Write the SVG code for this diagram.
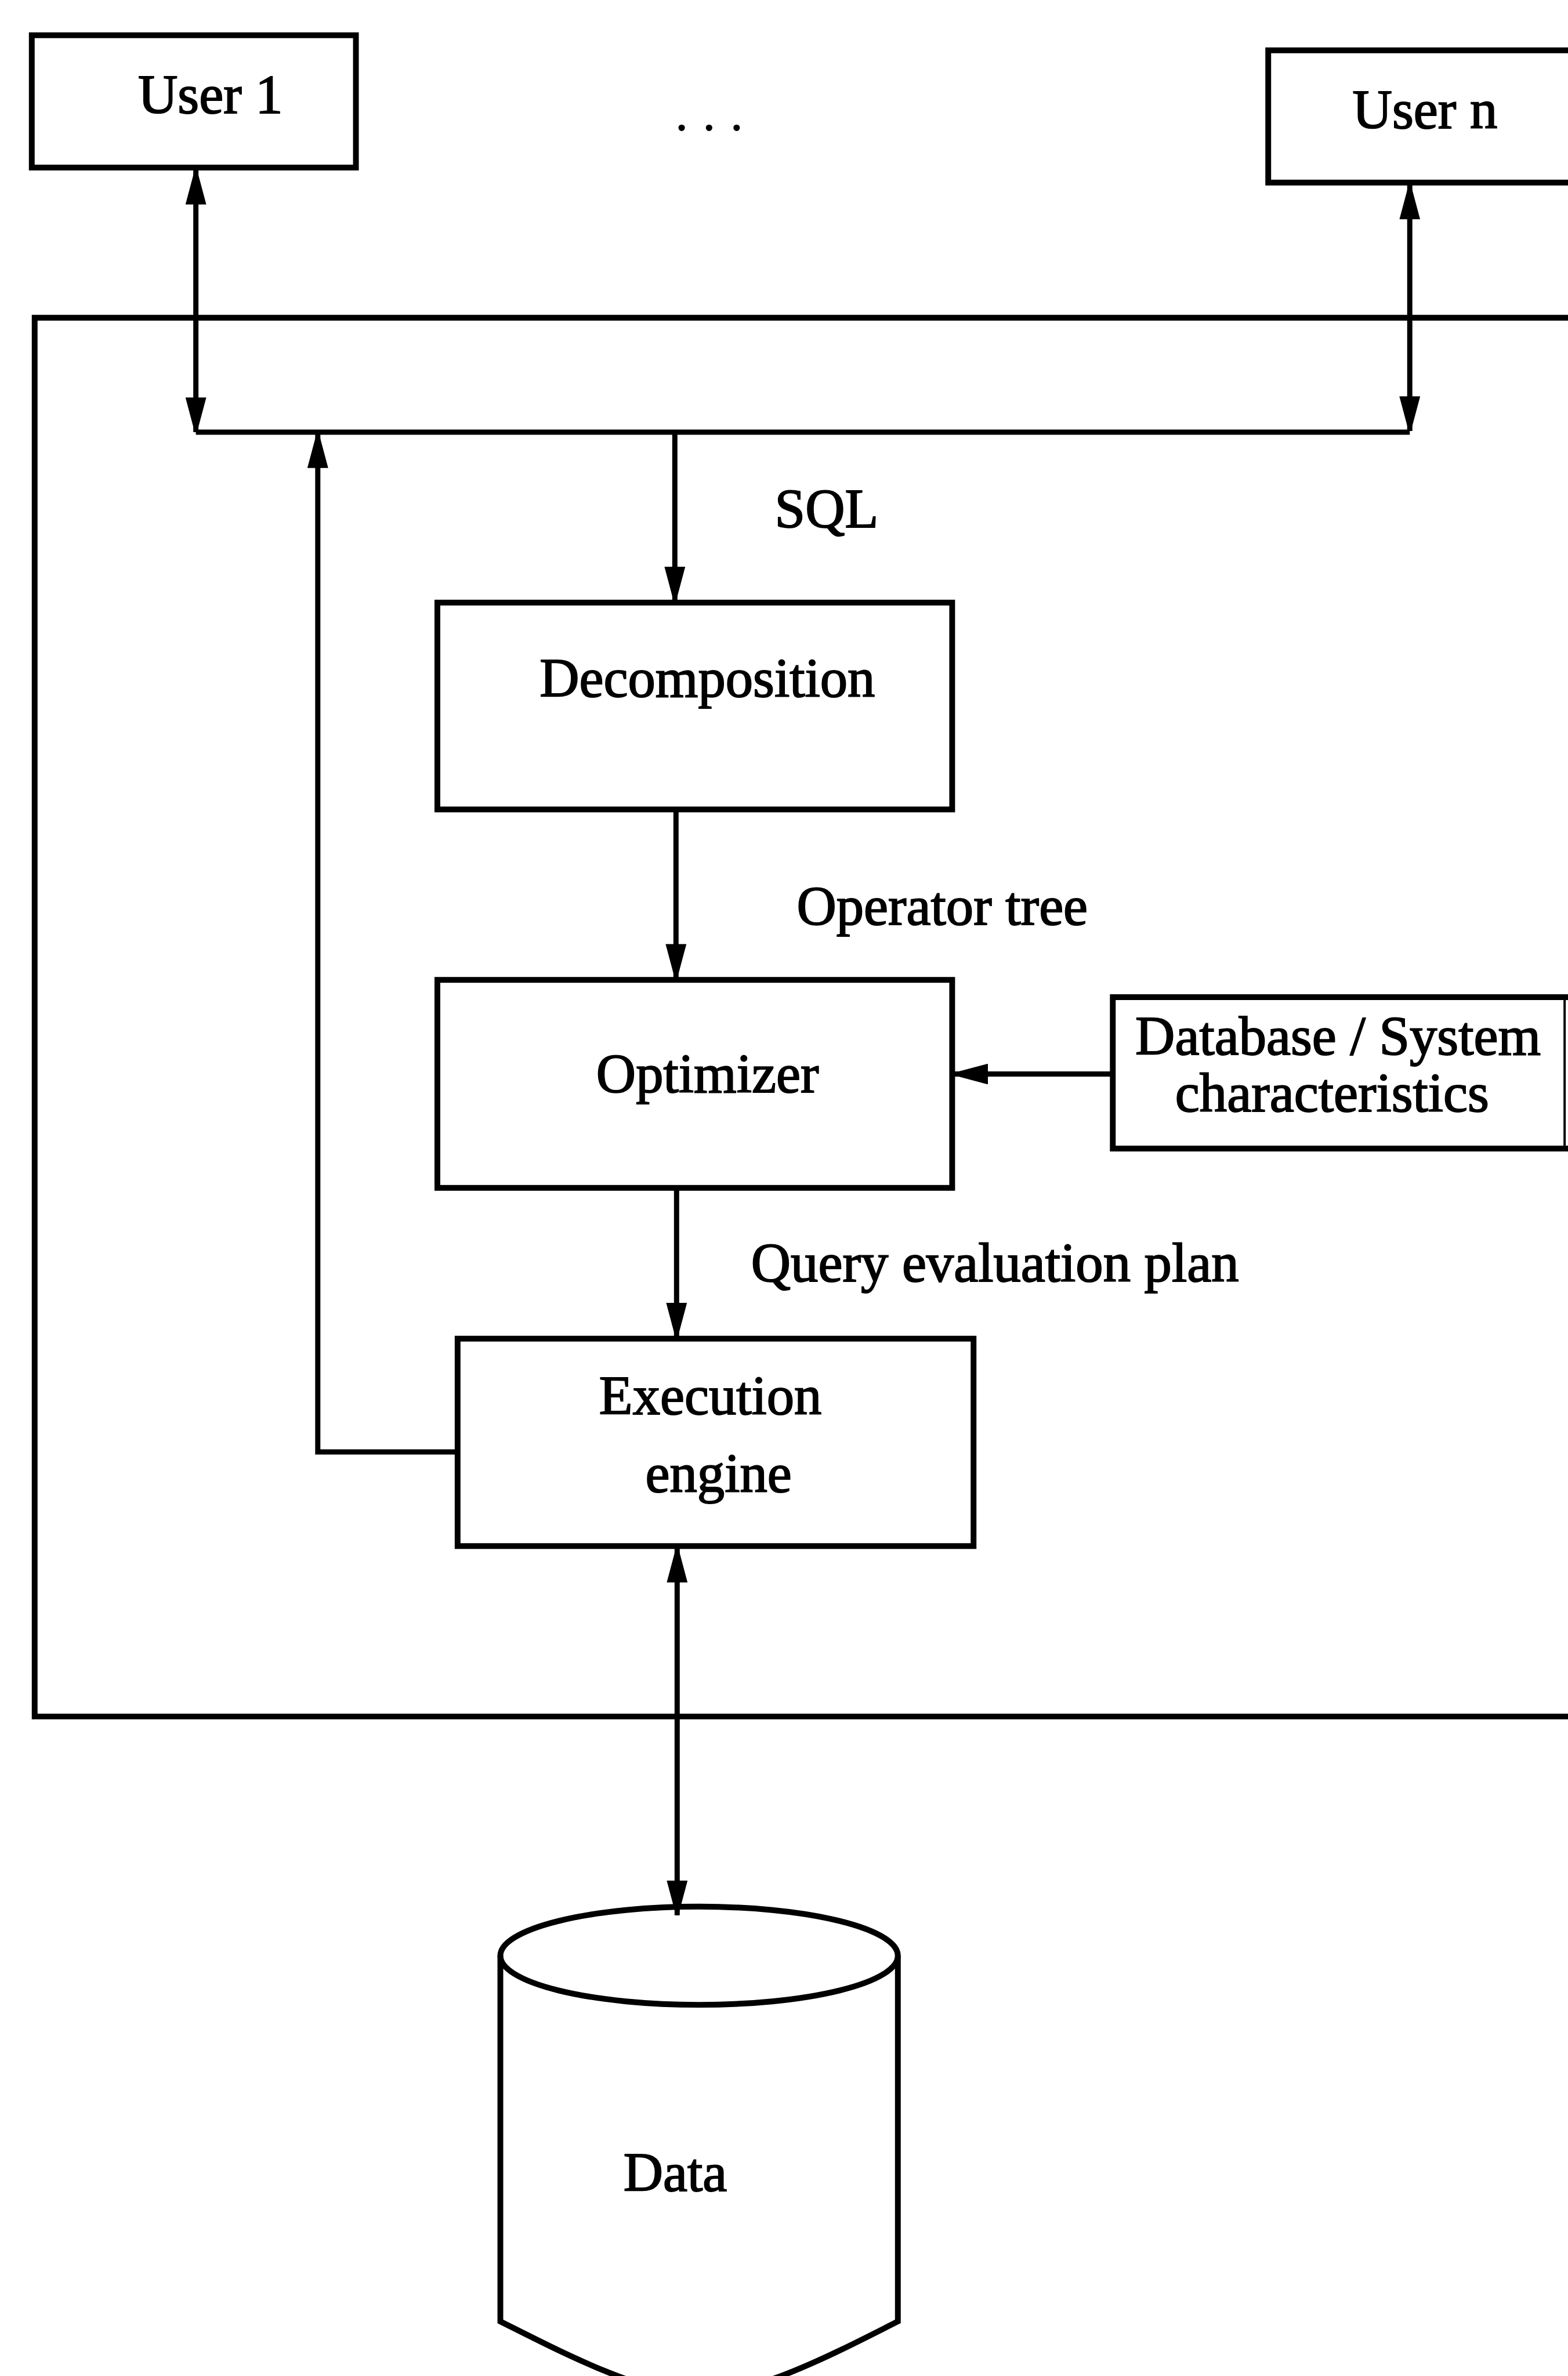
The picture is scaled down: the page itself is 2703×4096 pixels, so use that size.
<svg xmlns="http://www.w3.org/2000/svg" width="2703" height="4096" viewBox="0 0 2703 4096">
<defs>
<style>
.box{fill:none;stroke:#000;stroke-width:10}
.ln{fill:none;stroke:#000;stroke-width:9}
.t{font-family:"Liberation Serif","Times New Roman",serif;font-size:95px;fill:#000;stroke:#000;stroke-width:2}
</style>
<marker id="ah" viewBox="0 0 60 36" refX="60" refY="18" markerWidth="60" markerHeight="36" markerUnits="userSpaceOnUse" orient="auto-start-reverse">
<path d="M0,0 L60,16 L60,20 L0,36 z" fill="#000"/>
</marker>
</defs>
<rect x="0" y="0" width="2703" height="4096" fill="#fff"/>
<g transform="scale(0.996)">
<g id="system">
<path class="box" d="M2730,550 L60,550 L60,2971 L2730,2971"/>
</g>
<g id="user1">
<rect class="box" x="55" y="61" width="561" height="229"/>
<text class="t" x="239" y="196">User 1</text>
</g>
<g id="dots">
<text class="t" x="1168" y="226" style="stroke-width:0">. . .</text>
</g>
<g id="usern">
<path class="box" d="M2730,87 L2195,87 L2195,316 L2730,316"/>
<text class="t" x="2341" y="222">User n</text>
</g>
<g id="decomposition">
<rect class="box" x="757" y="1043" width="891" height="358"/>
<text class="t" x="934" y="1206">Decomposition</text>
</g>
<g id="optimizer">
<rect class="box" x="757" y="1696" width="891" height="360"/>
<text class="t" x="1032" y="1891">Optimizer</text>
</g>
<g id="dbsys">
<path class="box" d="M2730,1726 L1926,1726 L1926,1988 L2730,1988"/>
<line class="ln" x1="2708" y1="1726" x2="2708" y2="1988" style="stroke-width:4"/>
<text class="t" x="1965" y="1825">Database / System</text>
<text class="t" x="2034" y="1924">characteristics</text>
</g>
<g id="execution">
<rect class="box" x="792" y="2317" width="893" height="359"/>
<text class="t" x="1037" y="2448">Execution</text>
<text class="t" x="1117" y="2582">engine</text>
</g>
<g id="data">
<path class="box" d="M866,3385 L866,4018 C966,4068 1111,4145 1210,4145 C1310,4145 1455,4068 1554,4018 L1554,3385"/>
<ellipse class="box" cx="1210" cy="3385" rx="344" ry="85"/>
<text class="t" x="1079" y="3792">Data</text>
</g>
<g id="connectors">
<line class="ln" x1="339" y1="748" x2="2440" y2="748"/>
<line class="ln" x1="339" y1="294" x2="339" y2="748" marker-start="url(#ah)" marker-end="url(#ah)"/>
<line class="ln" x1="2440" y1="320" x2="2440" y2="746" marker-start="url(#ah)" marker-end="url(#ah)"/>
<line class="ln" x1="1168" y1="748" x2="1168" y2="1041" marker-end="url(#ah)"/>
<text class="t" x="1341" y="913">SQL</text>
<line class="ln" x1="1170" y1="1401" x2="1170" y2="1694" marker-end="url(#ah)"/>
<text class="t" x="1379" y="1600">Operator tree</text>
<line class="ln" x1="1171" y1="2056" x2="1171" y2="2315" marker-end="url(#ah)"/>
<text class="t" x="1300" y="2218">Query evaluation plan</text>
<line class="ln" x1="1926" y1="1859" x2="1650" y2="1859" marker-end="url(#ah)"/>
<path class="ln" d="M792,2513 L550,2513 L550,750" marker-end="url(#ah)"/>
<line class="ln" x1="1172" y1="2679" x2="1172" y2="3315" marker-start="url(#ah)" marker-end="url(#ah)"/>
</g>
</g>
</svg>
